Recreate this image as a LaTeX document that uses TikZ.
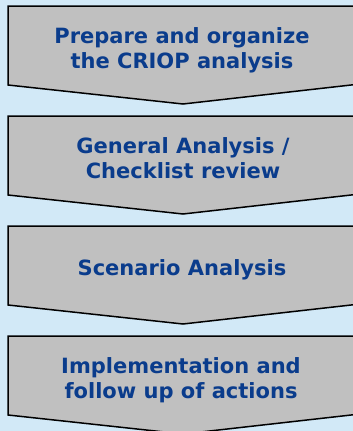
\documentclass[tikz,border=0pt]{standalone}
\usepackage{fontspec}
\setmainfont{DejaVu Sans}
\definecolor{bgblue}{HTML}{D2E9F7}
\definecolor{boxgray}{HTML}{C0C0C0}
\definecolor{txtblue}{HTML}{0A3C8C}
\begin{document}
\begin{tikzpicture}[x=1pt,y=-1pt,
  chev/.style={draw=black,line width=1.5pt,fill=boxgray,line join=miter},
  lbl/.style={text=txtblue,font=\fontsize{21}{25}\selectfont\bfseries,align=center,inner sep=0pt}]
\fill[bgblue] (0,0) rectangle (353,431);
\useasboundingbox (0,0) rectangle (353,431);
\foreach \i in {0,1,2,3}{
  \draw[chev] (8,6+110*\i) -- (360,6+110*\i) -- (360,84+110*\i) -- (183,104+110*\i) -- (8,85+110*\i) -- cycle;
}
\node[lbl] (s1) at (182,50) {Prepare and organize\\ the CRIOP analysis};
\node[lbl] (s2) at (183,158) {General Analysis /\\Checklist review};
\node[lbl] (s3) at (182,270) {Scenario Analysis};
\node[lbl] (s4) at (181,380) {Implementation and\\ follow up of actions};
\end{tikzpicture}
\end{document}
